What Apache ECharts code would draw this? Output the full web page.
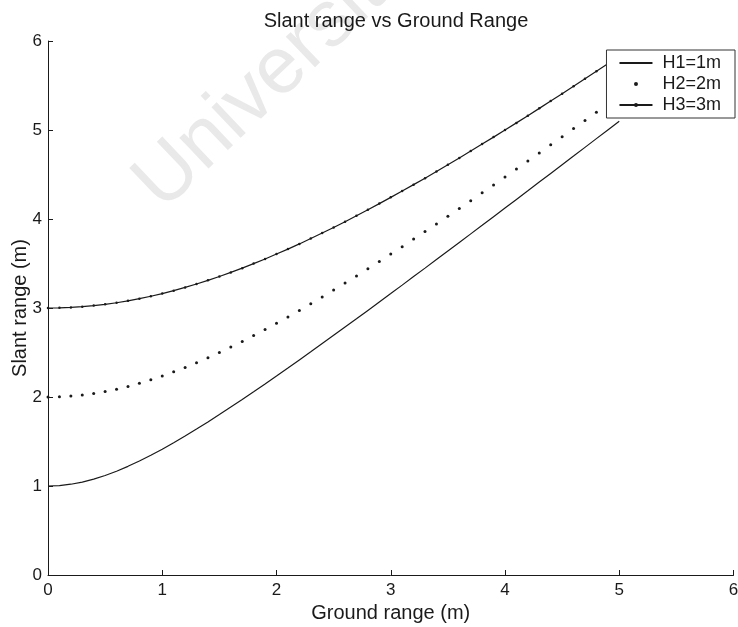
<!DOCTYPE html>
<html><head><meta charset="utf-8">
<script src="https://cdn.jsdelivr.net/npm/echarts@6/dist/echarts.min.js"></script>
<style>html,body{margin:0;padding:0;background:#fff}#c{width:738px;height:627px}</style>
</head><body><div id="c"></div>
<script>
var groundRange = [0.0,0.1,0.2,0.3,0.4,0.5,0.6,0.7,0.8,0.9,1.0,1.1,1.2,1.3,1.4,1.5,1.6,1.7,1.8,1.9,2.0,2.1,2.2,2.3,2.4,2.5,2.6,2.7,2.8,2.9,3.0,3.1,3.2,3.3,3.4,3.5,3.6,3.7,3.8,3.9,4.0,4.1,4.2,4.3,4.4,4.5,4.6,4.7,4.8,4.9,5.0];
var slantH1 = [1.000,1.005,1.020,1.044,1.077,1.118,1.166,1.221,1.281,1.345,1.414,1.487,1.562,1.640,1.720,1.803,1.887,1.972,2.059,2.147,2.236,2.326,2.417,2.508,2.600,2.693,2.786,2.879,2.973,3.068,3.162,3.257,3.353,3.448,3.544,3.640,3.736,3.833,3.929,4.026,4.123,4.220,4.317,4.415,4.512,4.610,4.707,4.805,4.903,5.001,5.099];
var slantH2 = [2.000,2.002,2.010,2.022,2.040,2.062,2.088,2.119,2.154,2.193,2.236,2.283,2.332,2.385,2.441,2.500,2.561,2.625,2.691,2.759,2.828,2.900,2.973,3.048,3.124,3.202,3.280,3.360,3.441,3.523,3.606,3.689,3.774,3.859,3.945,4.031,4.118,4.206,4.294,4.383,4.472,4.562,4.651,4.742,4.833,4.924,5.016,5.108,5.200,5.292,5.385];
var slantH3 = [3.000,3.002,3.007,3.015,3.027,3.041,3.059,3.081,3.105,3.132,3.162,3.195,3.231,3.270,3.311,3.354,3.400,3.448,3.499,3.551,3.606,3.662,3.720,3.780,3.842,3.905,3.970,4.036,4.104,4.173,4.243,4.314,4.386,4.459,4.534,4.610,4.686,4.764,4.842,4.920,5.000,5.080,5.161,5.243,5.325,5.408,5.492,5.576,5.660,5.745,5.831];
var seriesNames = ['H1=1m','H2=2m','H3=3m'];

function pairs(xs, ys){ return xs.map(function(x,i){ return [x, ys[i]]; }); }

var ink = '#1a1a1a';
var font = 'Liberation Sans, Arial, sans-serif';
var chart = echarts.init(document.getElementById('c'));
chart.setOption({
  animation: false,
  backgroundColor: '#fff',
  title: {
    text: 'Slant range vs Ground Range',
    left: 391, top: 6, textAlign: 'center',
    textStyle: {fontFamily: font, fontSize: 20, fontWeight: 'normal', color: ink}
  },
  graphic: [{
    type: 'text', z: -10, x: 175, y: 225, rotation: 0.76,
    style: {text: 'Universiti Malaya', fontFamily: font, fontSize: 80, fill: '#e9e9e9', textAlign: 'left', textVerticalAlign: 'bottom'}
  }],
  grid: {left: 48, right: 4.5, top: 41, bottom: 52, containLabel: false, outerBoundsMode: 'none'},
  legend: {
    orient: 'vertical', right: 3, top: 50, z: 10,
    backgroundColor: '#fff', borderColor: '#333', borderWidth: 1, borderRadius: 0,
    padding: [4, 14, 4, 12], itemGap: 3, itemWidth: 33, itemHeight: 5,
    textStyle: {fontFamily: font, fontSize: 18, color: ink, padding: [0, 0, 0, 5]},
    data: [
      {name: seriesNames[0], itemStyle: {opacity: 0}},
      {name: seriesNames[1]},
      {name: seriesNames[2]}
    ]
  },
  xAxis: {
    type: 'value', min: 0, max: 6, interval: 1,
    name: 'Ground range (m)', nameLocation: 'middle', nameGap: 28, nameMoveOverlap: false,
    nameTextStyle: {fontFamily: font, fontSize: 20, color: ink},
    axisLine: {show: true, lineStyle: {color: ink, width: 1}},
    axisTick: {show: true, inside: true, length: 5, lineStyle: {color: ink}},
    axisLabel: {fontFamily: font, fontSize: 17, color: ink, margin: 7},
    splitLine: {show: false}
  },
  yAxis: {
    type: 'value', min: 0, max: 6, interval: 1,
    name: 'Slant range (m)', nameLocation: 'middle', nameGap: 18, nameRotate: 90, nameMoveOverlap: false,
    nameTextStyle: {fontFamily: font, fontSize: 20, color: ink},
    axisLine: {show: true, lineStyle: {color: ink, width: 1}},
    axisTick: {show: true, inside: true, length: 5, lineStyle: {color: ink}},
    axisLabel: {fontFamily: font, fontSize: 17, color: ink, margin: 6},
    splitLine: {show: false}
  },
  series: [
    {name: seriesNames[0], type: 'line', data: pairs(groundRange, slantH1), symbol: 'none',
     lineStyle: {color: ink, width: 1.2}, itemStyle: {color: ink}, z: 2},
    {name: seriesNames[1], type: 'line', data: pairs(groundRange, slantH2), symbol: 'circle', symbolSize: 3, showSymbol: true,
     lineStyle: {width: 0, opacity: 0}, itemStyle: {color: ink, borderWidth: 0}, z: 2},
    {name: seriesNames[2], type: 'line', data: pairs(groundRange, slantH3), symbol: 'circle', symbolSize: 2.5, showSymbol: true,
     lineStyle: {color: ink, width: 1.2}, itemStyle: {color: ink, borderWidth: 0}, z: 2}
  ]
});
</script></body></html>
